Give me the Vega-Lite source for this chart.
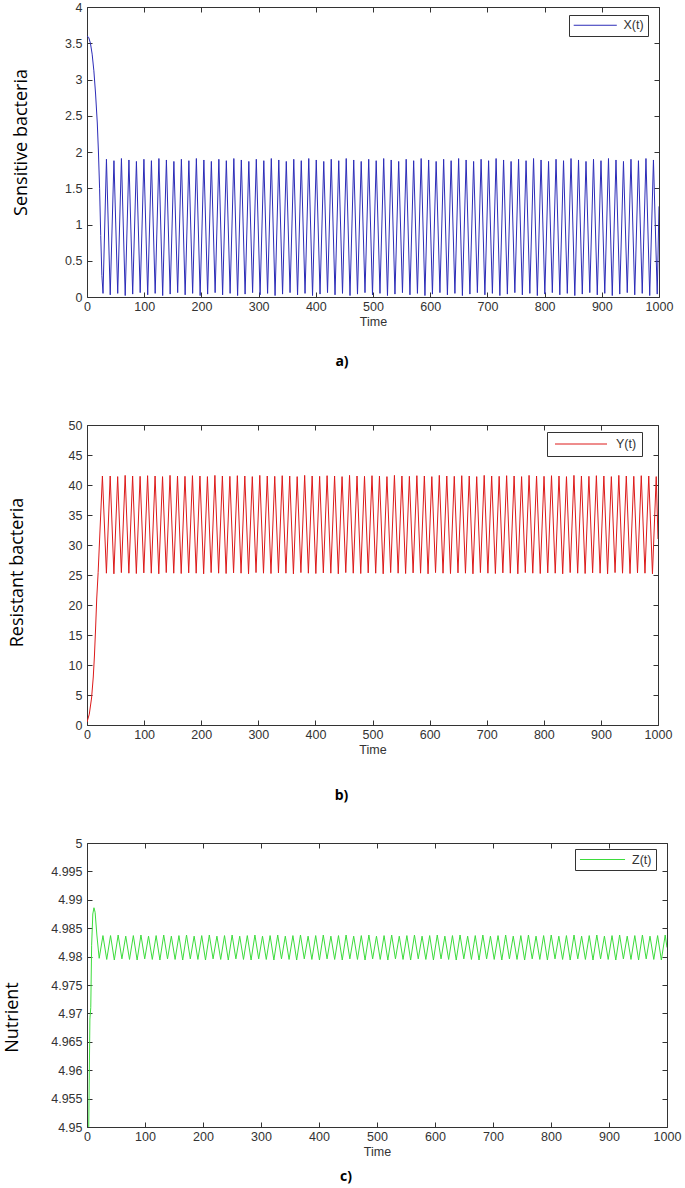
{
"$schema": "https://vega.github.io/schema/vega-lite/v6.json",
"padding": {"left": 2, "top": 0, "right": 5, "bottom": 0},
"config": {
 "view": {"stroke": "#333", "strokeWidth": 1},
 "axis": {"grid": false, "domain": false, "tickSize": -5, "tickColor": "#333", "labelFont": "Liberation Sans", "labelFontSize": 12.5, "labelColor": "#333", "labelFlush": false, "labelOverlap": false, "titleFont": "Liberation Sans", "titleFontSize": 12.5, "titleFontWeight": "normal", "titleColor": "#333"},
 "axisBottom": {"labelPadding": 8, "titlePadding": 3},
 "axisLeft": {"labelPadding": 10, "titleFont": "Open Sans", "titleFontSize": 18, "titleColor": "black", "titleBaseline": "middle", "titleAngle": 270, "titleAlign": "center"},
 "legend": {"strokeColor": "#333", "fillColor": "white", "padding": 4, "labelFont": "Liberation Sans", "labelFontSize": 12.5, "labelColor": "#333", "symbolStrokeWidth": 1, "symbolType": "M-4,0H4"},
 "title": {"font": "Open Sans", "fontSize": 14, "fontWeight": "bold", "color": "black", "orient": "bottom", "frame": "group", "anchor": "middle", "dx": -31, "lineHeight": 16}
},
"datasets": {
"D": [{"t": 0, "v": 0}],
"X": [{"t":0,"v":3.6},{"t":3,"v":3.58},{"t":6,"v":3.5},{"t":9,"v":3.35},{"t":12,"v":3.12},{"t":15,"v":2.8},{"t":18,"v":2.4},{"t":20,"v":2.0},{"t":22,"v":1.5},{"t":24,"v":0.85},{"t":26,"v":0.3},{"t":28,"v":0.05},
{"t":34,"v":1.9},{"t":40.6,"v":0.03},
{"t":47.1,"v":1.88},{"t":53.7,"v":0.05},
{"t":60.2,"v":1.91},{"t":66.8,"v":0.02},
{"t":73.3,"v":1.89},{"t":79.9,"v":0.04},
{"t":86.4,"v":1.87},{"t":93,"v":0.06},
{"t":99.5,"v":1.9},{"t":106.1,"v":0.03},
{"t":112.6,"v":1.88},{"t":119.2,"v":0.05},
{"t":125.7,"v":1.91},{"t":132.3,"v":0.02},
{"t":138.8,"v":1.89},{"t":145.4,"v":0.04},
{"t":151.9,"v":1.87},{"t":158.5,"v":0.06},
{"t":165,"v":1.9},{"t":171.6,"v":0.03},
{"t":178.1,"v":1.88},{"t":184.7,"v":0.05},
{"t":191.2,"v":1.91},{"t":197.8,"v":0.02},
{"t":204.3,"v":1.89},{"t":210.9,"v":0.04},
{"t":217.4,"v":1.87},{"t":224,"v":0.06},
{"t":230.5,"v":1.9},{"t":237.1,"v":0.03},
{"t":243.6,"v":1.88},{"t":250.2,"v":0.05},
{"t":256.7,"v":1.91},{"t":263.3,"v":0.02},
{"t":269.8,"v":1.89},{"t":276.4,"v":0.04},
{"t":282.9,"v":1.87},{"t":289.5,"v":0.06},
{"t":296,"v":1.9},{"t":302.6,"v":0.03},
{"t":309.1,"v":1.88},{"t":315.7,"v":0.05},
{"t":322.2,"v":1.91},{"t":328.8,"v":0.02},
{"t":335.3,"v":1.89},{"t":341.9,"v":0.04},
{"t":348.4,"v":1.87},{"t":355,"v":0.06},
{"t":361.5,"v":1.9},{"t":368.1,"v":0.03},
{"t":374.6,"v":1.88},{"t":381.2,"v":0.05},
{"t":387.7,"v":1.91},{"t":394.3,"v":0.02},
{"t":400.8,"v":1.89},{"t":407.4,"v":0.04},
{"t":413.9,"v":1.87},{"t":420.5,"v":0.06},
{"t":427,"v":1.9},{"t":433.6,"v":0.03},
{"t":440.1,"v":1.88},{"t":446.7,"v":0.05},
{"t":453.2,"v":1.91},{"t":459.8,"v":0.02},
{"t":466.3,"v":1.89},{"t":472.9,"v":0.04},
{"t":479.4,"v":1.87},{"t":486,"v":0.06},
{"t":492.5,"v":1.9},{"t":499.1,"v":0.03},
{"t":505.6,"v":1.88},{"t":512.2,"v":0.05},
{"t":518.7,"v":1.91},{"t":525.3,"v":0.02},
{"t":531.8,"v":1.89},{"t":538.4,"v":0.04},
{"t":544.9,"v":1.87},{"t":551.5,"v":0.06},
{"t":558,"v":1.9},{"t":564.6,"v":0.03},
{"t":571.1,"v":1.88},{"t":577.7,"v":0.05},
{"t":584.2,"v":1.91},{"t":590.8,"v":0.02},
{"t":597.3,"v":1.89},{"t":603.9,"v":0.04},
{"t":610.4,"v":1.87},{"t":617,"v":0.06},
{"t":623.5,"v":1.9},{"t":630.1,"v":0.03},
{"t":636.6,"v":1.88},{"t":643.2,"v":0.05},
{"t":649.7,"v":1.91},{"t":656.3,"v":0.02},
{"t":662.8,"v":1.89},{"t":669.4,"v":0.04},
{"t":675.9,"v":1.87},{"t":682.5,"v":0.06},
{"t":689,"v":1.9},{"t":695.6,"v":0.03},
{"t":702.1,"v":1.88},{"t":708.7,"v":0.05},
{"t":715.2,"v":1.91},{"t":721.8,"v":0.02},
{"t":728.3,"v":1.89},{"t":734.9,"v":0.04},
{"t":741.4,"v":1.87},{"t":748,"v":0.06},
{"t":754.5,"v":1.9},{"t":761.1,"v":0.03},
{"t":767.6,"v":1.88},{"t":774.2,"v":0.05},
{"t":780.7,"v":1.91},{"t":787.3,"v":0.02},
{"t":793.8,"v":1.89},{"t":800.4,"v":0.04},
{"t":806.9,"v":1.87},{"t":813.5,"v":0.06},
{"t":820,"v":1.9},{"t":826.6,"v":0.03},
{"t":833.1,"v":1.88},{"t":839.7,"v":0.05},
{"t":846.2,"v":1.91},{"t":852.8,"v":0.02},
{"t":859.3,"v":1.89},{"t":865.9,"v":0.04},
{"t":872.4,"v":1.87},{"t":879,"v":0.06},
{"t":885.5,"v":1.9},{"t":892.1,"v":0.03},
{"t":898.6,"v":1.88},{"t":905.2,"v":0.05},
{"t":911.7,"v":1.91},{"t":918.3,"v":0.02},
{"t":924.8,"v":1.89},{"t":931.4,"v":0.04},
{"t":937.9,"v":1.87},{"t":944.5,"v":0.06},
{"t":951,"v":1.9},{"t":957.6,"v":0.03},
{"t":964.1,"v":1.88},{"t":970.7,"v":0.05},
{"t":977.2,"v":1.91},{"t":983.8,"v":0.02},
{"t":990.3,"v":1.89},{"t":996.9,"v":0.04},
{"t":1000,"v":1.25}],
"Y": [{"t":0,"v":0.5},{"t":4,"v":1.8},{"t":8,"v":4.5},{"t":11,"v":8},{"t":13,"v":11.5},{"t":15,"v":16},{"t":17,"v":21},{"t":19.5,"v":25.4},{"t":27,"v":41.5},
{"t":34,"v":25.3},{"t":40.6,"v":41.5},
{"t":47.1,"v":25.2},{"t":53.7,"v":41.4},
{"t":60.2,"v":25.4},{"t":66.8,"v":41.6},
{"t":73.3,"v":25.3},{"t":79.9,"v":41.5},
{"t":86.4,"v":25.25},{"t":93,"v":41.45},
{"t":99.5,"v":25.35},{"t":106.1,"v":41.55},
{"t":112.6,"v":25.3},{"t":119.2,"v":41.5},
{"t":125.7,"v":25.2},{"t":132.3,"v":41.4},
{"t":138.8,"v":25.4},{"t":145.4,"v":41.6},
{"t":151.9,"v":25.3},{"t":158.5,"v":41.5},
{"t":165,"v":25.25},{"t":171.6,"v":41.45},
{"t":178.1,"v":25.35},{"t":184.7,"v":41.55},
{"t":191.2,"v":25.3},{"t":197.8,"v":41.5},
{"t":204.3,"v":25.2},{"t":210.9,"v":41.4},
{"t":217.4,"v":25.4},{"t":224,"v":41.6},
{"t":230.5,"v":25.3},{"t":237.1,"v":41.5},
{"t":243.6,"v":25.25},{"t":250.2,"v":41.45},
{"t":256.7,"v":25.35},{"t":263.3,"v":41.55},
{"t":269.8,"v":25.3},{"t":276.4,"v":41.5},
{"t":282.9,"v":25.2},{"t":289.5,"v":41.4},
{"t":296,"v":25.4},{"t":302.6,"v":41.6},
{"t":309.1,"v":25.3},{"t":315.7,"v":41.5},
{"t":322.2,"v":25.25},{"t":328.8,"v":41.45},
{"t":335.3,"v":25.35},{"t":341.9,"v":41.55},
{"t":348.4,"v":25.3},{"t":355,"v":41.5},
{"t":361.5,"v":25.2},{"t":368.1,"v":41.4},
{"t":374.6,"v":25.4},{"t":381.2,"v":41.6},
{"t":387.7,"v":25.3},{"t":394.3,"v":41.5},
{"t":400.8,"v":25.25},{"t":407.4,"v":41.45},
{"t":413.9,"v":25.35},{"t":420.5,"v":41.55},
{"t":427,"v":25.3},{"t":433.6,"v":41.5},
{"t":440.1,"v":25.2},{"t":446.7,"v":41.4},
{"t":453.2,"v":25.4},{"t":459.8,"v":41.6},
{"t":466.3,"v":25.3},{"t":472.9,"v":41.5},
{"t":479.4,"v":25.25},{"t":486,"v":41.45},
{"t":492.5,"v":25.35},{"t":499.1,"v":41.55},
{"t":505.6,"v":25.3},{"t":512.2,"v":41.5},
{"t":518.7,"v":25.2},{"t":525.3,"v":41.4},
{"t":531.8,"v":25.4},{"t":538.4,"v":41.6},
{"t":544.9,"v":25.3},{"t":551.5,"v":41.5},
{"t":558,"v":25.25},{"t":564.6,"v":41.45},
{"t":571.1,"v":25.35},{"t":577.7,"v":41.55},
{"t":584.2,"v":25.3},{"t":590.8,"v":41.5},
{"t":597.3,"v":25.2},{"t":603.9,"v":41.4},
{"t":610.4,"v":25.4},{"t":617,"v":41.6},
{"t":623.5,"v":25.3},{"t":630.1,"v":41.5},
{"t":636.6,"v":25.25},{"t":643.2,"v":41.45},
{"t":649.7,"v":25.35},{"t":656.3,"v":41.55},
{"t":662.8,"v":25.3},{"t":669.4,"v":41.5},
{"t":675.9,"v":25.2},{"t":682.5,"v":41.4},
{"t":689,"v":25.4},{"t":695.6,"v":41.6},
{"t":702.1,"v":25.3},{"t":708.7,"v":41.5},
{"t":715.2,"v":25.25},{"t":721.8,"v":41.45},
{"t":728.3,"v":25.35},{"t":734.9,"v":41.55},
{"t":741.4,"v":25.3},{"t":748,"v":41.5},
{"t":754.5,"v":25.2},{"t":761.1,"v":41.4},
{"t":767.6,"v":25.4},{"t":774.2,"v":41.6},
{"t":780.7,"v":25.3},{"t":787.3,"v":41.5},
{"t":793.8,"v":25.25},{"t":800.4,"v":41.45},
{"t":806.9,"v":25.35},{"t":813.5,"v":41.55},
{"t":820,"v":25.3},{"t":826.6,"v":41.5},
{"t":833.1,"v":25.2},{"t":839.7,"v":41.4},
{"t":846.2,"v":25.4},{"t":852.8,"v":41.6},
{"t":859.3,"v":25.3},{"t":865.9,"v":41.5},
{"t":872.4,"v":25.25},{"t":879,"v":41.45},
{"t":885.5,"v":25.35},{"t":892.1,"v":41.55},
{"t":898.6,"v":25.3},{"t":905.2,"v":41.5},
{"t":911.7,"v":25.2},{"t":918.3,"v":41.4},
{"t":924.8,"v":25.4},{"t":931.4,"v":41.6},
{"t":937.9,"v":25.3},{"t":944.5,"v":41.5},
{"t":951,"v":25.25},{"t":957.6,"v":41.45},
{"t":964.1,"v":25.35},{"t":970.7,"v":41.55},
{"t":977.2,"v":25.3},{"t":983.8,"v":41.5},
{"t":990.3,"v":25.2},{"t":996.9,"v":41.4},
{"t":1000,"v":31}],
"Z": [{"t":0,"v":4.93},{"t":3,"v":4.95},{"t":5,"v":4.969},{"t":6.5,"v":4.971},{"t":8,"v":4.982},{"t":10,"v":4.9875},{"t":12,"v":4.9886},{"t":14,"v":4.9878},{"t":17,"v":4.9838},{"t":21,"v":4.9797},{"t":27.5,"v":4.9837},
{"t":34,"v":4.9795},{"t":40.6,"v":4.9837},
{"t":47.1,"v":4.9794},{"t":53.7,"v":4.9838},
{"t":60.2,"v":4.9796},{"t":66.8,"v":4.9836},
{"t":73.3,"v":4.9795},{"t":79.9,"v":4.9837},
{"t":86.4,"v":4.9794},{"t":93,"v":4.9838},
{"t":99.5,"v":4.9796},{"t":106.1,"v":4.9836},
{"t":112.6,"v":4.9795},{"t":119.2,"v":4.9837},
{"t":125.7,"v":4.9794},{"t":132.3,"v":4.9838},
{"t":138.8,"v":4.9796},{"t":145.4,"v":4.9836},
{"t":151.9,"v":4.9795},{"t":158.5,"v":4.9837},
{"t":165,"v":4.9794},{"t":171.6,"v":4.9838},
{"t":178.1,"v":4.9796},{"t":184.7,"v":4.9836},
{"t":191.2,"v":4.9795},{"t":197.8,"v":4.9837},
{"t":204.3,"v":4.9794},{"t":210.9,"v":4.9838},
{"t":217.4,"v":4.9796},{"t":224,"v":4.9836},
{"t":230.5,"v":4.9795},{"t":237.1,"v":4.9837},
{"t":243.6,"v":4.9794},{"t":250.2,"v":4.9838},
{"t":256.7,"v":4.9796},{"t":263.3,"v":4.9836},
{"t":269.8,"v":4.9795},{"t":276.4,"v":4.9837},
{"t":282.9,"v":4.9794},{"t":289.5,"v":4.9838},
{"t":296,"v":4.9796},{"t":302.6,"v":4.9836},
{"t":309.1,"v":4.9795},{"t":315.7,"v":4.9837},
{"t":322.2,"v":4.9794},{"t":328.8,"v":4.9838},
{"t":335.3,"v":4.9796},{"t":341.9,"v":4.9836},
{"t":348.4,"v":4.9795},{"t":355,"v":4.9837},
{"t":361.5,"v":4.9794},{"t":368.1,"v":4.9838},
{"t":374.6,"v":4.9796},{"t":381.2,"v":4.9836},
{"t":387.7,"v":4.9795},{"t":394.3,"v":4.9837},
{"t":400.8,"v":4.9794},{"t":407.4,"v":4.9838},
{"t":413.9,"v":4.9796},{"t":420.5,"v":4.9836},
{"t":427,"v":4.9795},{"t":433.6,"v":4.9837},
{"t":440.1,"v":4.9794},{"t":446.7,"v":4.9838},
{"t":453.2,"v":4.9796},{"t":459.8,"v":4.9836},
{"t":466.3,"v":4.9795},{"t":472.9,"v":4.9837},
{"t":479.4,"v":4.9794},{"t":486,"v":4.9838},
{"t":492.5,"v":4.9796},{"t":499.1,"v":4.9836},
{"t":505.6,"v":4.9795},{"t":512.2,"v":4.9837},
{"t":518.7,"v":4.9794},{"t":525.3,"v":4.9838},
{"t":531.8,"v":4.9796},{"t":538.4,"v":4.9836},
{"t":544.9,"v":4.9795},{"t":551.5,"v":4.9837},
{"t":558,"v":4.9794},{"t":564.6,"v":4.9838},
{"t":571.1,"v":4.9796},{"t":577.7,"v":4.9836},
{"t":584.2,"v":4.9795},{"t":590.8,"v":4.9837},
{"t":597.3,"v":4.9794},{"t":603.9,"v":4.9838},
{"t":610.4,"v":4.9796},{"t":617,"v":4.9836},
{"t":623.5,"v":4.9795},{"t":630.1,"v":4.9837},
{"t":636.6,"v":4.9794},{"t":643.2,"v":4.9838},
{"t":649.7,"v":4.9796},{"t":656.3,"v":4.9836},
{"t":662.8,"v":4.9795},{"t":669.4,"v":4.9837},
{"t":675.9,"v":4.9794},{"t":682.5,"v":4.9838},
{"t":689,"v":4.9796},{"t":695.6,"v":4.9836},
{"t":702.1,"v":4.9795},{"t":708.7,"v":4.9837},
{"t":715.2,"v":4.9794},{"t":721.8,"v":4.9838},
{"t":728.3,"v":4.9796},{"t":734.9,"v":4.9836},
{"t":741.4,"v":4.9795},{"t":748,"v":4.9837},
{"t":754.5,"v":4.9794},{"t":761.1,"v":4.9838},
{"t":767.6,"v":4.9796},{"t":774.2,"v":4.9836},
{"t":780.7,"v":4.9795},{"t":787.3,"v":4.9837},
{"t":793.8,"v":4.9794},{"t":800.4,"v":4.9838},
{"t":806.9,"v":4.9796},{"t":813.5,"v":4.9836},
{"t":820,"v":4.9795},{"t":826.6,"v":4.9837},
{"t":833.1,"v":4.9794},{"t":839.7,"v":4.9838},
{"t":846.2,"v":4.9796},{"t":852.8,"v":4.9836},
{"t":859.3,"v":4.9795},{"t":865.9,"v":4.9837},
{"t":872.4,"v":4.9794},{"t":879,"v":4.9838},
{"t":885.5,"v":4.9796},{"t":892.1,"v":4.9836},
{"t":898.6,"v":4.9795},{"t":905.2,"v":4.9837},
{"t":911.7,"v":4.9794},{"t":918.3,"v":4.9838},
{"t":924.8,"v":4.9796},{"t":931.4,"v":4.9836},
{"t":937.9,"v":4.9795},{"t":944.5,"v":4.9837},
{"t":951,"v":4.9794},{"t":957.6,"v":4.9838},
{"t":964.1,"v":4.9796},{"t":970.7,"v":4.9836},
{"t":977.2,"v":4.9795},{"t":983.8,"v":4.9837},
{"t":990.3,"v":4.9794},{"t":996.9,"v":4.9838},
{"t":1000,"v":4.9816}]
},
"spacing": 32,
"resolve": {"scale": {"x": "independent", "y": "independent", "color": "independent"}, "legend": {"color": "independent"}},
"vconcat": [
 {
  "width": 572, "height": 290,
  "title": {"text": ["a)", " "], "offset": 27},
  "layer": [
   {"data": {"name": "X"}, "mark": {"type": "line", "strokeWidth": 1, "clip": true},
    "encoding": {
     "x": {"field": "t", "type": "quantitative", "scale": {"domain": [0, 1000], "nice": false}, "axis": {"values": [0,100,200,300,400,500,600,700,800,900,1000], "format": "d", "title": "Time"}},
     "y": {"field": "v", "type": "quantitative", "scale": {"domain": [0, 4], "nice": false}, "axis": {"values": [0,0.5,1,1.5,2,2.5,3,3.5,4], "format": "~f", "title": "Sensitive bacteria", "titleX": -66, "titleY": 135}},
     "color": {"datum": "X(t)", "type": "nominal", "scale": {"range": ["#2c2cb8"]}, "legend": {"title": null, "orient": "none", "legendX": 482, "legendY": 8, "symbolSize": 116, "symbolOffset": 16, "labelOffset": 22}}
    }},
   {"data": {"name": "D"}, "mark": {"type": "point", "opacity": 0, "clip": true},
    "encoding": {
     "x": {"field": "t", "type": "quantitative", "scale": {"domain": [0, 1000], "nice": false}, "axis": {"orient": "top", "values": [0,100,200,300,400,500,600,700,800,900,1000], "labels": false, "title": null}},
     "y": {"field": "v", "type": "quantitative", "scale": {"domain": [0, 4], "nice": false}, "axis": {"orient": "right", "values": [0,0.5,1,1.5,2,2.5,3,3.5,4], "labels": false, "title": null}}
    }}
  ],
  "resolve": {"scale": {"x": "independent", "y": "independent"}, "axis": {"x": "independent", "y": "independent"}}
 },
 {
  "width": 571, "height": 300,
  "title": {"text": "b)", "offset": 33},
  "layer": [
   {"data": {"name": "Y"}, "mark": {"type": "line", "strokeWidth": 1, "clip": true},
    "encoding": {
     "x": {"field": "t", "type": "quantitative", "scale": {"domain": [0, 1000], "nice": false}, "axis": {"values": [0,100,200,300,400,500,600,700,800,900,1000], "format": "d", "title": "Time"}},
     "y": {"field": "v", "type": "quantitative", "scale": {"domain": [0, 50], "nice": false}, "axis": {"values": [0,5,10,15,20,25,30,35,40,45,50], "format": "d", "title": "Resistant bacteria", "titleX": -70, "titleY": 147}},
     "color": {"datum": "Y(t)", "type": "nominal", "scale": {"range": ["#dd1a1a"]}, "legend": {"title": null, "orient": "none", "legendX": 460, "legendY": 7, "symbolSize": 169, "symbolOffset": 22, "labelOffset": 28, "padding": 5}}
    }},
   {"data": {"name": "D"}, "mark": {"type": "point", "opacity": 0, "clip": true},
    "encoding": {
     "x": {"field": "t", "type": "quantitative", "scale": {"domain": [0, 1000], "nice": false}, "axis": {"orient": "top", "values": [0,100,200,300,400,500,600,700,800,900,1000], "labels": false, "title": null}},
     "y": {"field": "v", "type": "quantitative", "scale": {"domain": [0, 50], "nice": false}, "axis": {"orient": "right", "values": [0,5,10,15,20,25,30,35,40,45,50], "labels": false, "title": null}}
    }}
  ],
  "resolve": {"scale": {"x": "independent", "y": "independent"}, "axis": {"x": "independent", "y": "independent"}}
 },
 {
  "width": 580, "height": 284,
  "title": {"text": "c)", "offset": 12},
  "layer": [
   {"data": {"name": "Z"}, "mark": {"type": "line", "strokeWidth": 1, "clip": true},
    "encoding": {
     "x": {"field": "t", "type": "quantitative", "scale": {"domain": [0, 1000], "nice": false}, "axis": {"values": [0,100,200,300,400,500,600,700,800,900,1000], "format": "d", "title": "Time"}},
     "y": {"field": "v", "type": "quantitative", "scale": {"domain": [4.95, 5], "nice": false, "zero": false}, "axis": {"values": [4.95,4.955,4.96,4.965,4.97,4.975,4.98,4.985,4.99,4.995,5], "format": "~f", "title": "Nutrient", "titleX": -75, "titleY": 174}},
     "color": {"datum": "Z(t)", "type": "nominal", "scale": {"range": ["#3ddc3d"]}, "legend": {"title": null, "orient": "none", "legendX": 488, "legendY": 6, "symbolSize": 127, "symbolOffset": 17, "labelOffset": 23}}
    }},
   {"data": {"name": "D"}, "mark": {"type": "point", "opacity": 0, "clip": true},
    "encoding": {
     "x": {"field": "t", "type": "quantitative", "scale": {"domain": [0, 1000], "nice": false}, "axis": {"orient": "top", "values": [0,100,200,300,400,500,600,700,800,900,1000], "labels": false, "title": null}},
     "y": {"field": "v", "type": "quantitative", "scale": {"domain": [4.95, 5], "nice": false, "zero": false}, "axis": {"orient": "right", "values": [4.95,4.955,4.96,4.965,4.97,4.975,4.98,4.985,4.99,4.995,5], "labels": false, "title": null}}
    }}
  ],
  "resolve": {"scale": {"x": "independent", "y": "independent"}, "axis": {"x": "independent", "y": "independent"}}
 }
]
}
